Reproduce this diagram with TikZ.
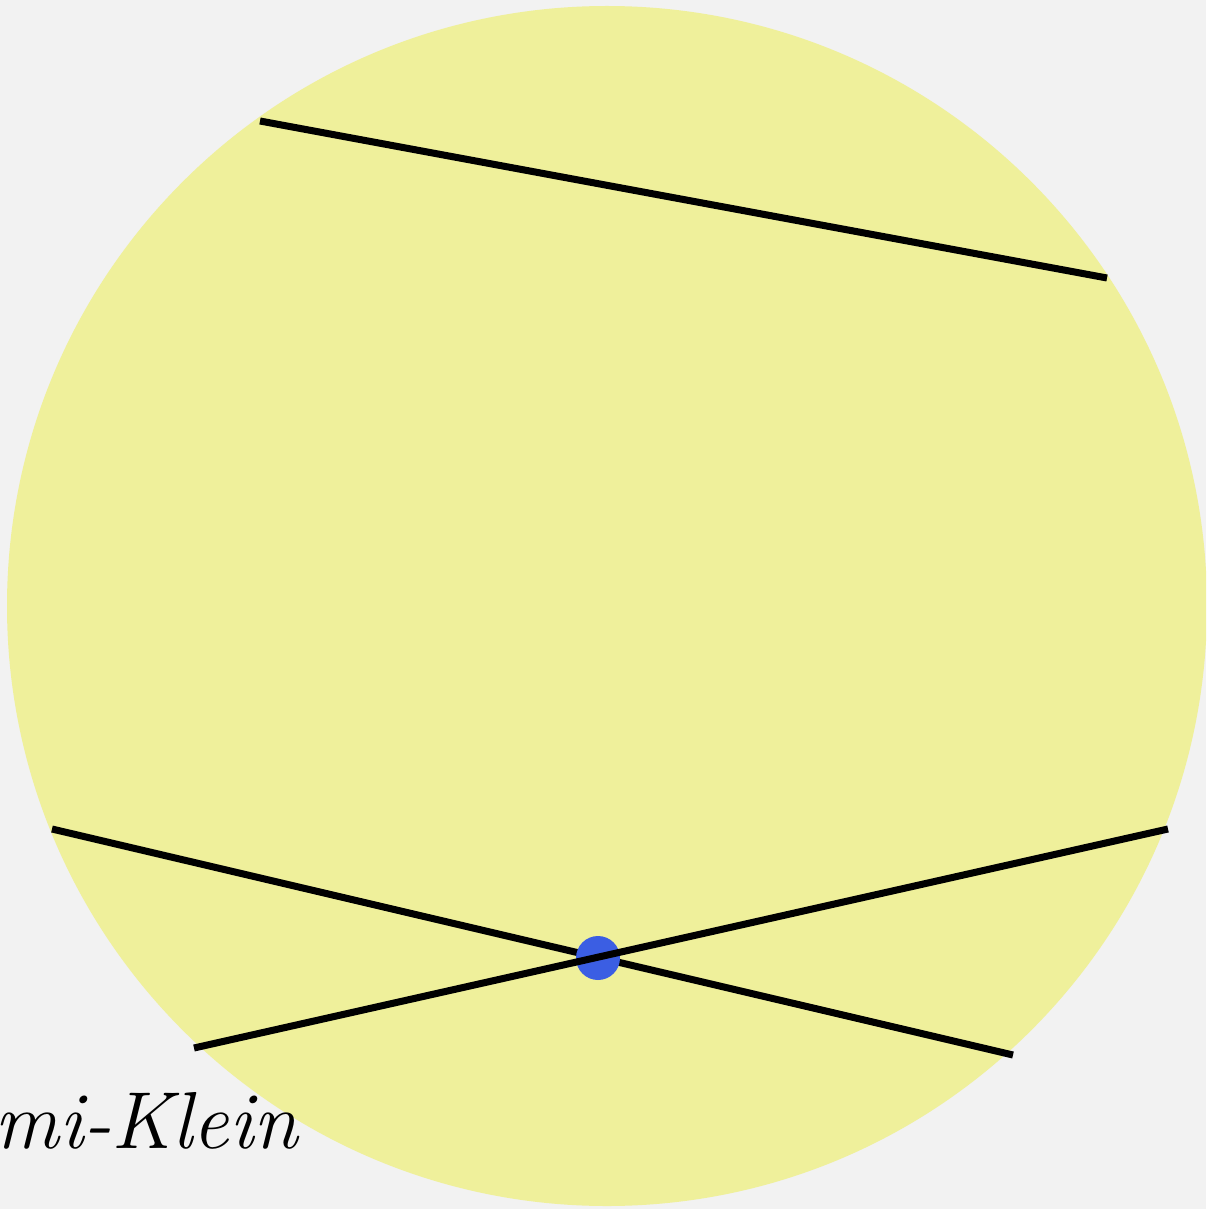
\documentclass[tikz,border=0pt]{standalone}
\usepackage{tikz}
\usetikzlibrary{calc}
\definecolor{paper}{HTML}{F2F2F2}
\definecolor{diskfill}{HTML}{EFF09B}
\definecolor{pointblue}{HTML}{3B5EE3}

\begin{document}
\begin{tikzpicture}[x=0.02cm,y=-0.02cm]
  \useasboundingbox (0,0) rectangle (1206,1209);
  \clip (0,0) rectangle (1206,1209);
  \fill[paper] (0,0) rectangle (1206,1209);
  \fill[diskfill] (607,606) circle (600);
  % chords
  \coordinate (a1) at (260,121);
  \coordinate (a2) at (1107,278);
  \coordinate (b1) at (52,829);
  \coordinate (b2) at (1013,1055);
  \coordinate (c1) at (194,1048);
  \coordinate (c2) at (1168,829);
  \draw[line width=4pt,black] (a1) -- (a2);
  \draw[line width=4pt,black] (b1) -- (b2);
  \fill[pointblue] (598,958) circle (22);
  \draw[line width=4pt,black] (c1) -- (c2);
  \node[anchor=base east,inner sep=0pt,font=\fontsize{46}{54}\selectfont\itshape] (name) at (298,1148) {Beltrami-Klein};
\end{tikzpicture}
\end{document}
